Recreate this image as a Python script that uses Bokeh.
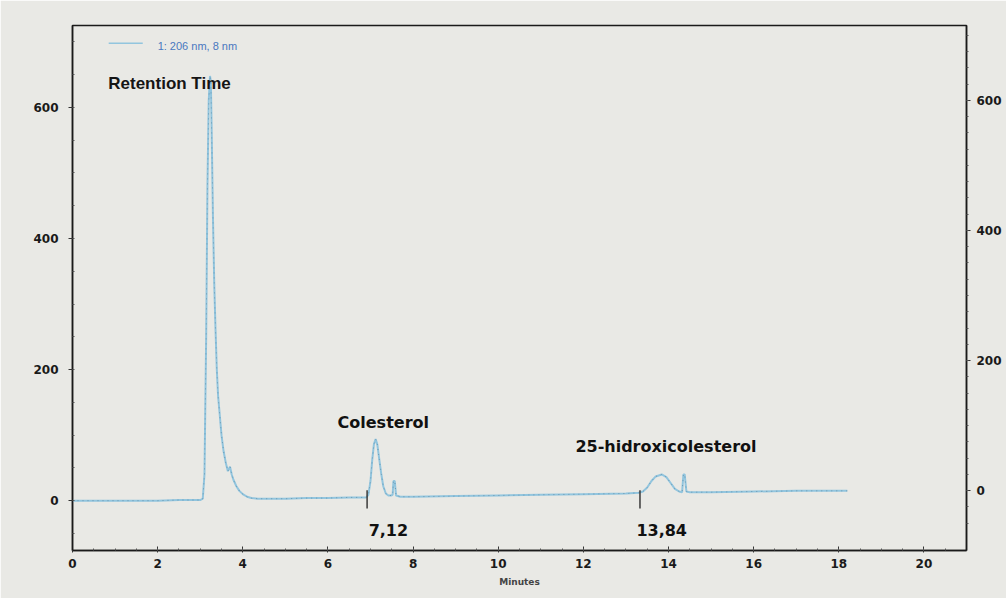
from bokeh.plotting import figure
from bokeh.models import Range1d, LinearAxis, Label, FixedTicker
from bokeh.embed import file_html
from bokeh.resources import INLINE

# Chromatogram trace (time in minutes, detector response)
times = [0.0, 0.5, 1.0, 1.5, 2.0, 2.5, 3.0, 3.06, 3.1, 3.14, 3.17, 3.2, 3.23, 3.25, 3.27,
         3.3, 3.33, 3.36, 3.39, 3.42, 3.46, 3.5, 3.55, 3.6, 3.65, 3.7, 3.74, 3.78, 3.85,
         3.92, 4.0, 4.1, 4.2, 4.35, 4.6, 5.0, 5.5, 6.0, 6.5, 6.9,
         6.95, 7.0, 7.04, 7.08, 7.12, 7.16, 7.2, 7.25, 7.3, 7.36, 7.42, 7.48, 7.52, 7.54,
         7.57, 7.6, 7.7, 8.0, 9.0, 10.0, 11.0, 12.0, 13.0, 13.3, 13.4, 13.5, 13.6, 13.7,
         13.84, 13.95, 14.05, 14.15, 14.25, 14.32, 14.35, 14.38, 14.42, 14.5, 15.0, 16.0,
         17.0, 18.0, 18.2]
signal = [0, 0, 0, 0, 0, 1, 1, 3, 40, 250, 480, 610, 648, 640, 560,
          430, 330, 260, 200, 160, 130, 100, 75, 58, 45, 52, 40, 32, 22,
          15, 10, 6, 4, 3, 3, 3, 4, 4, 5, 5,
          9, 30, 62, 86, 94, 86, 66, 42, 22, 11, 8, 8, 9, 30,
          30, 8, 6, 6, 7, 8, 9, 10, 11, 12, 14, 20, 30, 37,
          40, 36, 27, 18, 14, 13, 40, 40, 14, 13, 13, 14,
          15, 15, 15]

# Identified peaks
peak_names = ["Colesterol", "25-hidroxicolesterol"]
peak_rt = [7.12, 13.84]
peak_height = [94, 40]
peak_rt_labels = ["7,12", "13,84"]
integration_start = [6.92, 13.33]

x_ticks = [0, 2, 4, 6, 8, 10, 12, 14, 16, 18, 20]
y_ticks = [0, 200, 400, 600]

BG = "#e9e9e5"
TRACE = "#92c5de"
FONT = "DejaVu Sans"

p = figure(width=1006, height=598, output_backend="svg", toolbar_location=None,
           x_range=Range1d(0, 21), y_range=Range1d(-76, 725),
           min_border_left=72, min_border_right=40, min_border_top=25,
           min_border_bottom=48)
p.background_fill_color = BG
p.border_fill_color = BG
p.outline_line_color = "#1a1a1a"
p.outline_line_width = 1.5
p.xgrid.visible = False
p.ygrid.visible = False

p.extra_y_ranges = {"right": Range1d(-92, 715)}

def style_axis(ax):
    ax.axis_line_color = "#1a1a1a"
    ax.axis_line_width = 1.5
    ax.major_tick_line_color = "#333333"
    ax.minor_tick_line_color = "#555555"
    ax.major_label_text_font = FONT
    ax.major_label_text_font_style = "bold"
    ax.major_label_text_font_size = "12px"
    ax.major_label_text_color = "#1a1a1a"

xa = p.xaxis[0]
style_axis(xa)
xa.ticker = FixedTicker(ticks=x_ticks, minor_ticks=[i * 0.5 for i in range(43)])
xa.major_tick_in = 4
xa.major_tick_out = 2
xa.minor_tick_in = 2
xa.minor_tick_out = 0
xa.major_label_standoff = 6
xa.axis_label = "Minutes"
xa.axis_label_text_font = FONT
xa.axis_label_text_font_style = "bold"
xa.axis_label_text_font_size = "9px"
xa.axis_label_standoff = 6

ya = p.yaxis[0]
style_axis(ya)
ya.ticker = FixedTicker(ticks=y_ticks, minor_ticks=[-50 + 50 * i for i in range(16)])
ya.major_tick_in = 0
ya.major_tick_out = 4
ya.minor_tick_in = 2
ya.minor_tick_out = 0
ya.major_label_standoff = 10

ra = LinearAxis(y_range_name="right", ticker=FixedTicker(ticks=y_ticks,
                minor_ticks=[-50 + 25 * i for i in range(32)]))
style_axis(ra)
ra.major_tick_in = 0
ra.major_tick_out = 4
ra.minor_tick_in = 0
ra.minor_tick_out = 2
ra.major_label_standoff = 6
p.add_layout(ra, "right")

# trace: light blue line with a darker dotted print over it
p.line(times, signal, line_color=TRACE, line_width=2)
p.line(times, signal, line_color="#4e7c96", line_width=1, line_dash="1 4", line_alpha=0.6)

# integration start marks
for xs in integration_start:
    p.segment(x0=[xs], y0=[-12], x1=[xs], y1=[16], line_color="#3a3a3a", line_width=1.5)

# peak labels: compound name above the peak, retention time under the baseline
name_dx = [0.18, 0.1]
rt_dx = [0.3, 0.0]
for name, rt, h, lab, ndx, rdx in zip(peak_names, peak_rt, peak_height,
                                        peak_rt_labels, name_dx, rt_dx):
    p.add_layout(Label(x=rt + ndx, y=h + 25 if h > 60 else h + 42, text=name,
                       text_align="center", text_baseline="alphabetic",
                       text_font=FONT, text_font_style="bold", text_font_size="16px",
                       text_color="#111111"))
    p.add_layout(Label(x=rt + rdx, y=-45, text=lab, text_align="center",
                       text_baseline="alphabetic", text_font=FONT,
                       text_font_style="bold", text_font_size="16px",
                       text_color="#111111"))

p.add_layout(Label(x=0.84, y=637, text="Retention Time", text_align="left",
                   text_baseline="alphabetic", text_font="Liberation Sans",
                   text_font_style="bold", text_font_size="17px", text_color="#151515"))

# legend entry
p.segment(x0=[0.85], y0=[698], x1=[1.65], y1=[698], line_color=TRACE, line_width=1.5)
p.add_layout(Label(x=2.0, y=693, text="1: 206 nm, 8 nm", text_align="left",
                   text_baseline="alphabetic", text_font="Liberation Sans",
                   text_font_size="11px", text_color="#4a78c0"))

open("out.html", "w").write(file_html(p, INLINE))
